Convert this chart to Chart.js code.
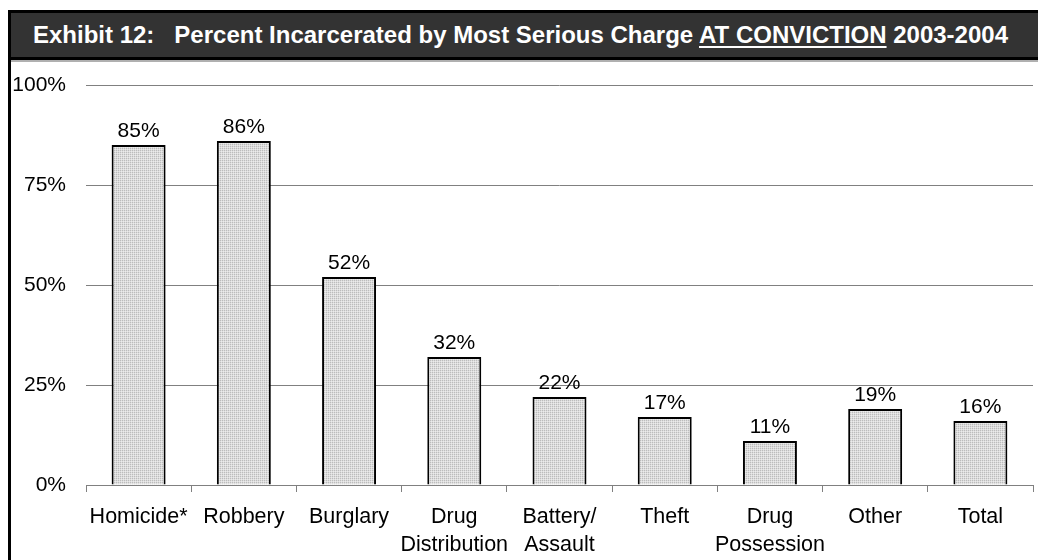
<!DOCTYPE html>
<html>
<head>
<meta charset="utf-8">
<script src="https://cdn.jsdelivr.net/npm/chart.js@4"></script>
<style>
  html, body { margin: 0; padding: 0; background: #fff; width: 1038px; height: 560px; overflow: hidden; }
  #frame { position: absolute; left: 8px; top: 10px; width: 1100px; height: 600px; border-left: 3px solid #000; box-sizing: border-box; }
  #title { position: absolute; left: 8px; top: 10px; width: 1100px; height: 50px; box-sizing: border-box;
           background: #333333; border-top: 3px solid #000; border-bottom: 3px solid #000; border-left: 3px solid #000;
           color: #fff; font-family: "Liberation Sans", Arial, sans-serif; font-weight: bold; font-size: 24px;
           line-height: 44px; padding-left: 22px; white-space: pre; }
  #title u { text-decoration-thickness: 2px; text-underline-offset: 3px; }
  #sep { position: absolute; left: 11px; top: 60px; width: 1100px; height: 2px; background: #b0b0b0; }
  #c { position: absolute; left: 0; top: 0; }
</style>
</head>
<body>
<div id="frame"></div>
<div id="title">Exhibit 12:   Percent Incarcerated by Most Serious Charge <u>AT CONVICTION</u> 2003-2004</div>
<div id="sep"></div>
<canvas id="c" width="1038" height="560"></canvas>
<script>
const categories = [
  "Homicide*", ["Robbery"], ["Burglary"], ["Drug", "Distribution"], ["Battery/", "Assault"],
  ["Theft"], ["Drug", "Possession"], ["Other"], ["Total"]
];
const percentIncarcerated = [85, 86, 52, 32, 22, 17, 11, 19, 16];
const yTickValues = [0, 25, 50, 75, 100];

function makePattern() {
  const p = document.createElement('canvas');
  p.width = 2; p.height = 2;
  const g = p.getContext('2d');
  g.fillStyle = '#dcdcdc'; g.fillRect(0, 0, 2, 2);
  g.fillStyle = '#bcbcbc'; g.fillRect(0, 0, 1, 1);
  g.fillStyle = '#ebebeb'; g.fillRect(1, 1, 1, 1);
  return document.getElementById('c').getContext('2d').createPattern(p, 'repeat');
}

const FONT = '"Liberation Sans", Arial, sans-serif';

const valueLabels = {
  id: 'valueLabels',
  afterDatasetsDraw(chart) {
    const ctx = chart.ctx;
    const meta = chart.getDatasetMeta(0);
    ctx.save();
    ctx.font = '21px ' + FONT;
    ctx.fillStyle = '#000';
    ctx.textAlign = 'center';
    ctx.textBaseline = 'alphabetic';
    meta.data.forEach((bar, i) => {
      ctx.fillText(percentIncarcerated[i] + '%', bar.x, bar.y - 8);
    });
    ctx.restore();
  }
};

new Chart(document.getElementById('c'), {
  type: 'bar',
  data: {
    labels: categories,
    datasets: [{
      data: percentIncarcerated,
      backgroundColor: makePattern(),
      borderColor: '#000',
      borderWidth: 2,
      borderSkipped: 'bottom',
      barPercentage: 0.513,
      categoryPercentage: 1.0
    }]
  },
  options: {
    responsive: false,
    animation: false,
    events: [],
    layout: { padding: { left: 0, right: 5, top: 85, bottom: 0 } },
    plugins: { legend: { display: false }, tooltip: { enabled: false }, title: { display: false } },
    scales: {
      x: {
        offset: true,
        grid: { offset: true, drawOnChartArea: false, drawTicks: true, tickLength: 7, color: '#808080', lineWidth: 1 },
        border: { display: true, color: '#808080', width: 1 },
        ticks: { color: '#000', font: { family: FONT, size: 21.5, lineHeight: 1.26 }, padding: 12, maxRotation: 0, autoSkip: false },
        afterFit(s) { s.height = 75; }
      },
      y: {
        min: 0, max: 100,
        afterBuildTicks(s) { s.ticks = yTickValues.map(v => ({ value: v })); },
        grid: { drawTicks: false, color: '#808080', lineWidth: 1 },
        border: { display: false },
        ticks: { color: '#000', font: { family: FONT, size: 21 }, padding: 20, callback: v => v + '%' },
        afterFit(s) { s.width = 86; }
      }
    }
  },
  plugins: [valueLabels]
});
</script>
</body>
</html>
